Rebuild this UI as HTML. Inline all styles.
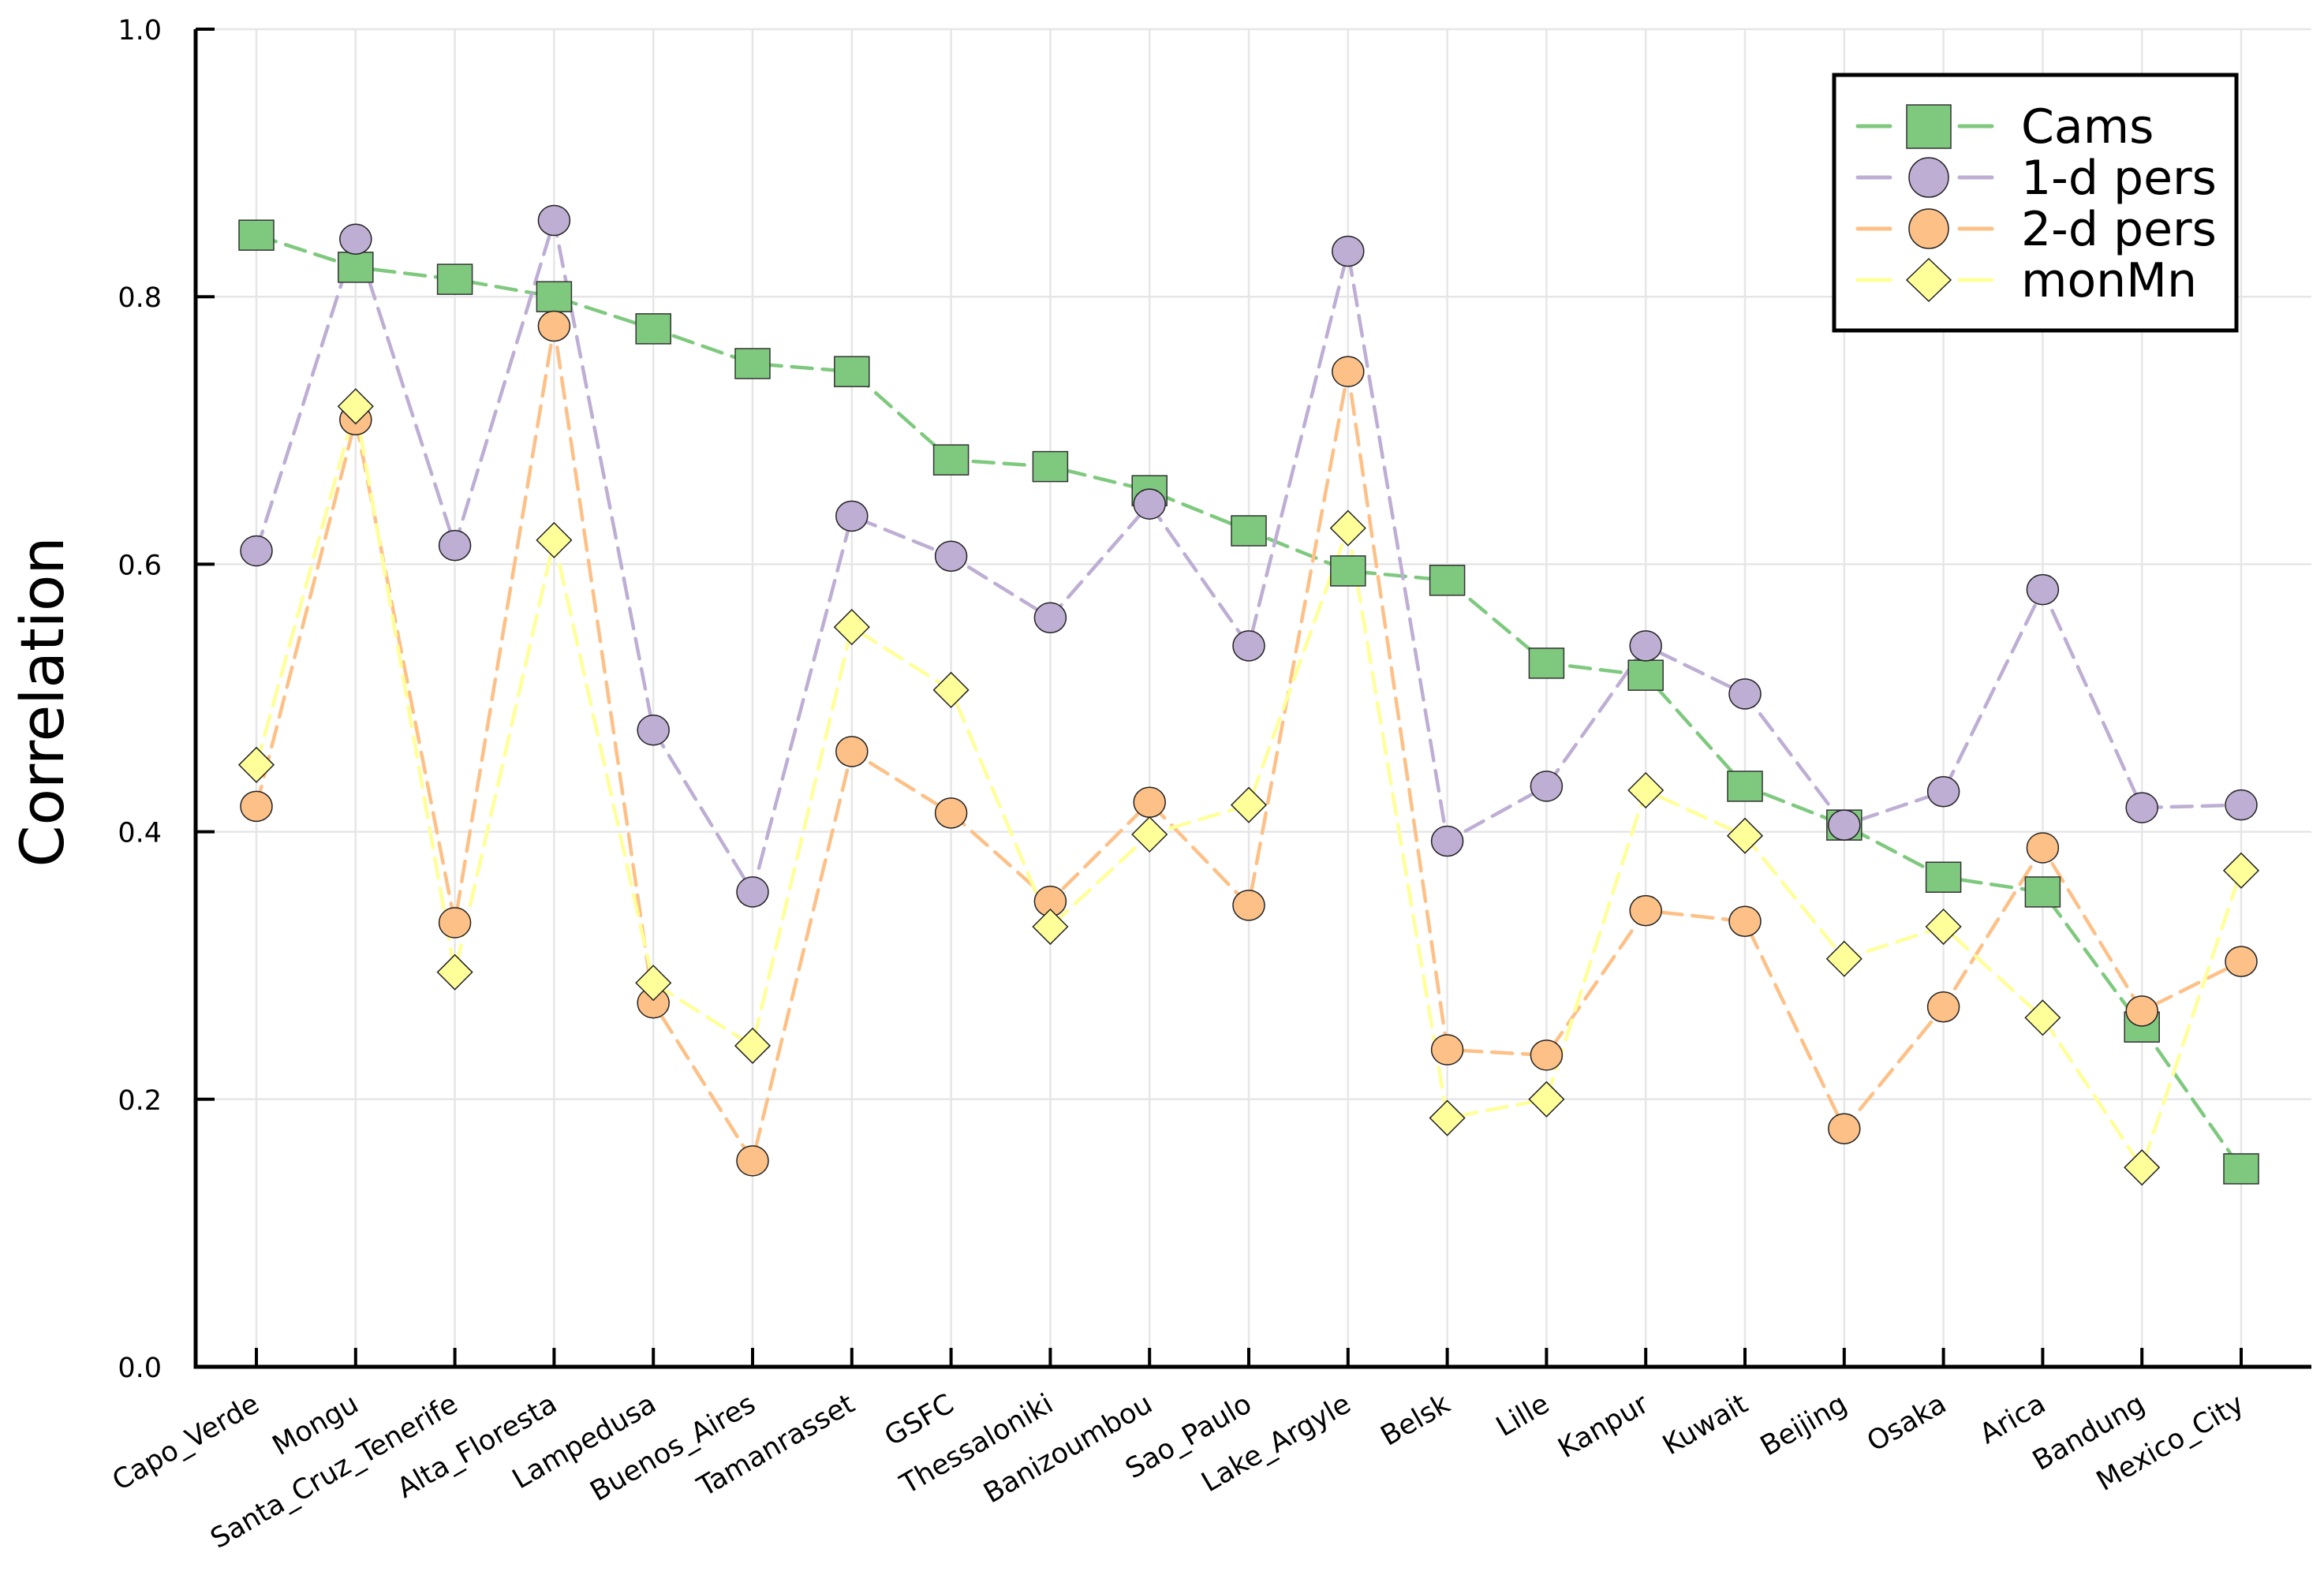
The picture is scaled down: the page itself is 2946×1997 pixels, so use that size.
<!DOCTYPE html>
<html><head><meta charset="utf-8"><style>html,body{margin:0;padding:0;background:#fff}svg{display:block;font-family:"DejaVu Sans","Liberation Sans",sans-serif}</style></head>
<body>
<svg id="chart" width="2946" height="1997" viewBox="0 0 2946 1997" xmlns="http://www.w3.org/2000/svg">
<rect width="2946" height="1997" fill="#fff"/>
<g id="grid"></g>
<g id="axes"></g>
<g id="series"></g>
<text transform="translate(80,890) rotate(-90)" text-anchor="middle" font-size="76" fill="#000">Correlation</text>
<g>
<rect x="2325" y="95" width="510" height="324" fill="#fff" stroke="#000" stroke-width="5"/>
<g id="legend-items"></g>
</g>
</svg>
<script>
const categories=["Capo_Verde","Mongu","Santa_Cruz_Tenerife","Alta_Floresta","Lampedusa","Buenos_Aires","Tamanrasset","GSFC","Thessaloniki","Banizoumbou","Sao_Paulo","Lake_Argyle","Belsk","Lille","Kanpur","Kuwait","Beijing","Osaka","Arica","Bandung","Mexico_City"];
const cams=[0.846,0.822,0.813,0.800,0.776,0.750,0.744,0.678,0.673,0.655,0.625,0.595,0.588,0.526,0.517,0.434,0.405,0.366,0.355,0.254,0.148];
const pers1=[0.610,0.843,0.614,0.857,0.476,0.355,0.636,0.606,0.560,0.645,0.539,0.834,0.393,0.434,0.539,0.503,0.405,0.430,0.581,0.418,0.420];
const pers2=[0.419,0.708,0.332,0.778,0.272,0.154,0.460,0.414,0.348,0.422,0.345,0.744,0.237,0.233,0.341,0.333,0.178,0.269,0.388,0.266,0.303];
const monMn=[0.450,0.718,0.295,0.618,0.287,0.240,0.553,0.506,0.329,0.398,0.420,0.627,0.186,0.200,0.431,0.397,0.305,0.329,0.261,0.149,0.371];
const yTicks=[0,0.2,0.4,0.6,0.8,1.0];
const yTickLabels=["0.0","0.2","0.4","0.6","0.8","1.0"];
const seriesNames=["Cams","1-d pers","2-d pers","monMn"];

const NS="http://www.w3.org/2000/svg";
const L=248,R=2930,T=37,B=1733;
const x0=325,dx=125.8;
function xs(i){return x0+i*dx;}
function ys(v){return B-(B-T)*v;}
function mk(tag,attrs,parent){const e=document.createElementNS(NS,tag);for(const k in attrs)e.setAttribute(k,attrs[k]);parent.appendChild(e);return e;}
const grid=document.getElementById('grid'),axes=document.getElementById('axes'),ser=document.getElementById('series');
categories.forEach((c,i)=>{
  const g=mk('line',{x1:xs(i),x2:xs(i),y1:T,y2:B,stroke:'#e6e6e6','stroke-width':2.5},grid);
  
  
  const t=mk('line',{x1:xs(i),x2:xs(i),y1:B,y2:B-24,stroke:'#000','stroke-width':4},axes);
  
  
  const lb=mk('text',{transform:`translate(${xs(i)+6},${B+54}) rotate(-30)`,'text-anchor':'end','font-size':35,fill:'#000'},axes);
  lb.textContent=c;
  
  
});
yTicks.forEach((v,i)=>{
  const g=mk('line',{x1:L,x2:R,y1:ys(v),y2:ys(v),stroke:'#e6e6e6','stroke-width':2.5},grid);
  
  
  const t=mk('line',{x1:L,x2:L+24,y1:ys(v),y2:ys(v),stroke:'#000','stroke-width':4},axes);
  
  
  const lb=mk('text',{x:L-43,y:ys(v)+13,'text-anchor':'end','font-size':35,fill:'#000'},axes);
  lb.textContent=yTickLabels[i];
  
  
});
const ax=mk('path',{d:`M${L},${T} L${L},${B} L${R},${B}`,fill:'none',stroke:'#000','stroke-width':5},axes);



const colors=["#7fc97f","#beaed4","#fdc086","#ffff99"];
const shapes=["square","circle","circle","diamond"];
const data=[cams,pers1,pers2,monMn];
function marker(shape,cx,cy,color,parent){
  let e;
  if(shape==='square')e=mk('rect',{x:cx-22,y:cy-19,width:44,height:38,fill:color,stroke:'#333','stroke-width':1.5},parent);
  else if(shape==='circle')e=mk('ellipse',{cx:cx,cy:cy,rx:20,ry:19,fill:color,stroke:'#222','stroke-width':1.5},parent);
  else e=mk('polygon',{points:`${cx},${cy-22} ${cx+22},${cy} ${cx},${cy+22} ${cx-22},${cy}`,fill:color,stroke:'#222','stroke-width':1.5},parent);
  return e;
}
data.forEach((arr,s)=>{
  const g=mk('g',{},ser);
  
  
  const d=arr.map((v,i)=>(i?'L':'M')+xs(i)+','+ys(v)).join(' ');
  const p=mk('path',{d:d,fill:'none',stroke:colors[s],'stroke-width':4.5,'stroke-dasharray':'26,13','stroke-linecap':'round'},g);
  
  
});
data.forEach((arr,s)=>{
  arr.forEach((v,i)=>{
    const m=marker(shapes[s],xs(i),ys(v),colors[s],ser);
    
    
  });
});
const li=document.getElementById('legend-items');
seriesNames.forEach((n,s)=>{
  const y=160+s*65;
  const g=mk('g',{},li);
  
  
  mk('line',{x1:2355,x2:2396,y1:y,y2:y,stroke:colors[s],'stroke-width':5,'stroke-linecap':'round'},g);
  mk('line',{x1:2484,x2:2525,y1:y,y2:y,stroke:colors[s],'stroke-width':5,'stroke-linecap':'round'},g);
  if(shapes[s]==='square')mk('rect',{x:2417,y:y-27,width:56,height:55,fill:colors[s],stroke:'#333','stroke-width':1.5},g);
  else if(shapes[s]==='circle')mk('ellipse',{cx:2445,cy:y,rx:25,ry:25,fill:colors[s],stroke:'#222','stroke-width':1.5},g);
  else mk('polygon',{points:`2445,${y-27} 2473,${y} 2445,${y+27} 2417,${y}`,fill:colors[s],stroke:'#222','stroke-width':1.5},g);
  const t=mk('text',{x:2562,y:y+21,'font-size':60,fill:'#000'},g);
  t.textContent=n;
});
</script>
</body></html>
